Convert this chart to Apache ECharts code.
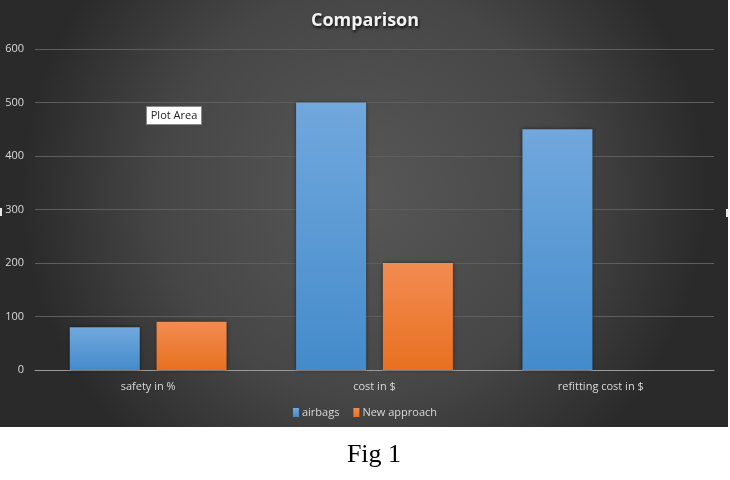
<!DOCTYPE html>
<html>
<head>
<meta charset="utf-8">
<script src="https://cdn.jsdelivr.net/npm/echarts@6/dist/echarts.min.js"></script>
<style>
html,body{margin:0;padding:0;background:#fff;}
#c{width:730px;height:480px;}
</style>
</head>
<body>
<div id="c"></div>
<script>
const categories = ['safety in %', 'cost in $', 'refitting cost in $'];
const airbags = [80, 500, 450];
const newApproach = [90, 200, null];
const seriesNames = ['airbags', 'New approach'];
const yTicks = [0, 100, 200, 300, 400, 500, 600];

const chart = echarts.init(document.getElementById('c'), null, {renderer: 'canvas'});
const lab = '"Open Sans", "Noto Sans", sans-serif';

chart.setOption({
  backgroundColor: '#ffffff',
  animation: false,
  graphic: [
    {type: 'rect', z: -10, silent: true, shape: {x: 0, y: 0, width: 728, height: 427},
     style: {fill: {type: 'radial', x: 0.5, y: 0.45, r: 0.8,
       colorStops: [{offset: 0, color: '#575757'}, {offset: 0.6, color: '#464646'}, {offset: 1, color: '#2a2a2a'}]}}},
    {type: 'rect', z: 10, shape: {x: 0, y: 208, width: 2, height: 8}, style: {fill: '#e6e6e6'}},
    {type: 'rect', z: 10, shape: {x: 726, y: 209, width: 2, height: 8}, style: {fill: '#e6e6e6'}},
    {type: 'group', z: 20, left: 146, top: 106, children: [
      {type: 'rect', shape: {x: 0, y: 0, width: 55, height: 18}, style: {fill: '#ffffff', stroke: '#8a8a8a', lineWidth: 1}},
      {type: 'text', style: {x: 27.5, y: 9, text: 'Plot Area', fill: '#222', font: '11px ' + lab, align: 'center', verticalAlign: 'middle'}}
    ]},
    {type: 'text', z: 10, style: {x: 374, y: 455, text: 'Fig 1', fill: '#000', font: '26px "Liberation Serif", "DejaVu Serif", serif', align: 'center', verticalAlign: 'middle'}}
  ],
  title: {
    text: 'Comparison', left: 'center', top: 7,
    textStyle: {color: '#f2f2f2', fontSize: 18, fontWeight: 'bold', fontFamily: '"Open Sans", sans-serif',
      textShadowColor: 'rgba(0,0,0,0.8)', textShadowBlur: 3, textShadowOffsetX: 1, textShadowOffsetY: 2}
  },
  legend: {
    data: seriesNames, bottom: 57, left: 'center', itemWidth: 6, itemHeight: 9, itemGap: 14,
    icon: 'rect', textStyle: {color: '#d9d9d9', fontSize: 11, fontFamily: lab, padding: [0, 0, 0, -2]}
  },
  grid: {left: 35, right: 16, top: 49, bottom: 110, containLabel: false},
  xAxis: {
    type: 'category', data: categories,
    axisLine: {lineStyle: {color: '#9a9a9a', width: 1}},
    axisTick: {show: false},
    axisLabel: {color: '#d9d9d9', fontSize: 11, fontFamily: lab, margin: 11}
  },
  yAxis: {
    type: 'value', min: yTicks[0], max: yTicks[yTicks.length - 1], interval: 100,
    axisLine: {show: false}, axisTick: {show: false},
    axisLabel: {color: '#d9d9d9', fontSize: 11, fontFamily: lab, margin: 11},
    splitLine: {lineStyle: {color: '#5e5e5e', width: 1}}
  },
  series: [
    {name: seriesNames[0], type: 'bar', data: airbags, barWidth: 70, barGap: '24%',
     itemStyle: {color: {type: 'linear', x: 0, y: 0, x2: 0, y2: 1,
       colorStops: [{offset: 0, color: '#71a8dd'}, {offset: 1, color: '#448bcb'}]},
       shadowColor: 'rgba(0,0,0,0.5)', shadowBlur: 4}},
    {name: seriesNames[1], type: 'bar', data: newApproach, barWidth: 70,
     itemStyle: {color: {type: 'linear', x: 0, y: 0, x2: 0, y2: 1,
       colorStops: [{offset: 0, color: '#f28c52'}, {offset: 1, color: '#e8701f'}]},
       shadowColor: 'rgba(0,0,0,0.5)', shadowBlur: 4}}
  ]
});
</script>
</body>
</html>
